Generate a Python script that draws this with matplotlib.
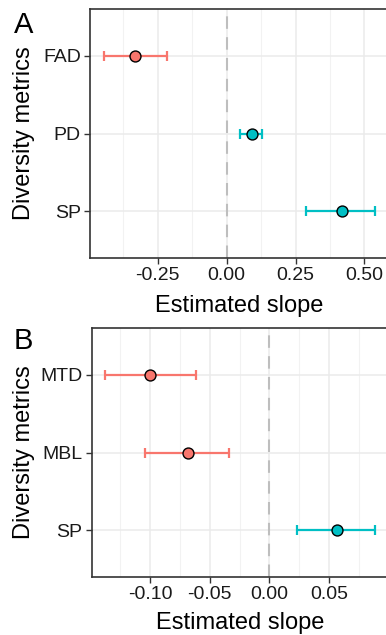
import matplotlib
matplotlib.use("Agg")
import matplotlib.pyplot as plt
import numpy as np

plt.rcParams['font.family'] = ['Liberation Sans', 'DejaVu Sans']

RED = '#F8766D'
TEAL = '#00BFC4'

# Panel A
a_labels = ['FAD', 'PD', 'SP']
a_est = [-0.332, 0.093, 0.417]
a_lo = [-0.447, 0.048, 0.287]
a_hi = [-0.215, 0.129, 0.540]
a_sig = ['neg', 'pos', 'pos']
a_ticks = [-0.25, 0.00, 0.25, 0.50]
a_ticklabels = ['-0.25', '0.00', '0.25', '0.50']

# Panel B
b_labels = ['MTD', 'MBL', 'SP']
b_est = [-0.0999, -0.0683, 0.0570]
b_lo = [-0.1376, -0.1040, 0.0229]
b_hi = [-0.0614, -0.0335, 0.0886]
b_sig = ['neg', 'neg', 'pos']
b_ticks = [-0.10, -0.05, 0.00, 0.05]
b_ticklabels = ['-0.10', '-0.05', '0.00', '0.05']

W, H = 386, 635
fig = plt.figure(figsize=(W / 100, H / 100), dpi=100)
fig.patch.set_facecolor('white')


def px_axes(left, right, top, bottom):
    return fig.add_axes([left / W, (H - bottom) / H, (right - left) / W, (bottom - top) / H])


def draw_panel(ax, labels, est, lo, hi, sig, ticks, ticklabels, px_left, px_bottom, px_w, px_h,
               xlab_base, ylab_base):
    n = len(labels)
    ypos = np.arange(n)[::-1] + 1  # first label at top
    lo_all, hi_all = min(lo), max(hi)
    rng = hi_all - lo_all
    xmin, xmax = lo_all - 0.05 * rng, hi_all + 0.05 * rng
    ax.set_xlim(xmin, xmax)
    ax.set_ylim(0.4, n + 0.6)

    ax.set_xticks(ticks)
    minors = []
    step = ticks[1] - ticks[0]
    m = ticks[0] - step / 2
    while m < xmax:
        if m > xmin:
            minors.append(m)
        m += step
    ax.set_xticks(minors, minor=True)
    ax.set_yticks(ypos)
    ax.grid(True, which='major', color='#EBEBEB', linewidth=1.1, zorder=0)
    ax.grid(True, which='minor', axis='x', color='#F2F2F2', linewidth=0.8, zorder=0)
    ax.tick_params(axis='x', which='minor', length=0)

    ax.axvline(0, color='#BEBEBE', linestyle=(0, (6, 4)), linewidth=1.5, zorder=1)

    for y, e, l, h, s in zip(ypos, est, lo, hi, sig):
        c = RED if s == 'neg' else TEAL
        ax.errorbar([e], [y], xerr=[[e - l], [h - e]], fmt='none', ecolor=c,
                    elinewidth=1.6, capsize=3.6, capthick=1.6, zorder=2)
        ax.scatter([e], [y], s=62, facecolor=c, edgecolor='black', linewidth=1.0, zorder=3)

    ax.set_xticklabels(ticklabels)
    ax.set_yticklabels(labels)
    ax.tick_params(axis='both', which='major', labelsize=14, colors='#333333',
                   labelcolor='#1a1a1a', length=4, width=1.0, pad=2.5)
    for sp in ax.spines.values():
        sp.set_color('#333333')
        sp.set_linewidth(1.2)
    ax.set_xlabel('Estimated slope', fontsize=17, color='black', va='baseline')
    ax.xaxis.set_label_coords(0.5, -(xlab_base - px_bottom) / px_h)
    ax.set_ylabel('Diversity metrics', fontsize=17, color='black', va='baseline')
    ax.yaxis.set_label_coords(-(px_left - ylab_base) / px_w, 0.5)
    ax.set_axisbelow(True)


axA = px_axes(90, 389, 9, 258)
draw_panel(axA, a_labels, a_est, a_lo, a_hi, a_sig, a_ticks, a_ticklabels,
           90, 258, 299, 249, 312, 30)
axB = px_axes(91.6, 388.6, 328, 577)
draw_panel(axB, b_labels, b_est, b_lo, b_hi, b_sig, b_ticks, b_ticklabels,
           91.6, 577, 297, 249, 629, 30)

fig.text(14 / W, 1 - 33 / H, 'A', fontsize=21, color='black', ha='left', va='baseline')
fig.text(14 / W, 1 - 349 / H, 'B', fontsize=21, color='black', ha='left', va='baseline')

fig.savefig('out.png', dpi=100)
